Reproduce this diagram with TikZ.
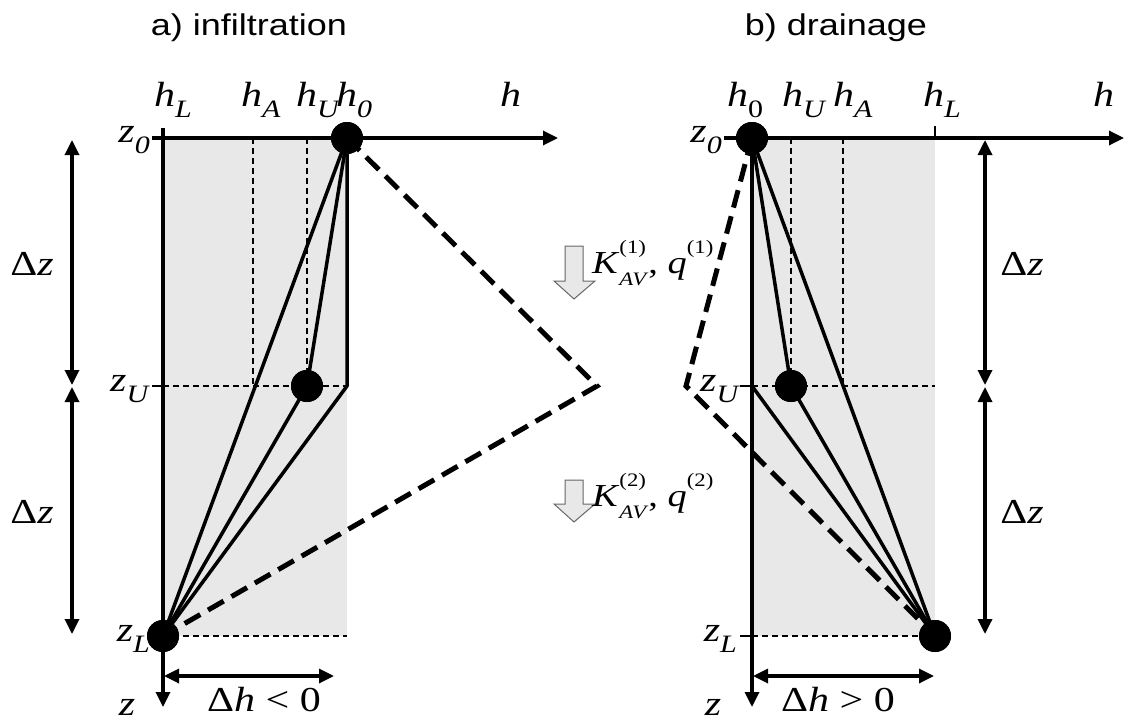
\documentclass[tikz,border=0pt]{standalone}
\usepackage{fontspec}
\setmainfont[FakeStretch=1.2]{Liberation Serif}
\newfontfamily\arialf[FakeStretch=1.2]{Liberation Sans}
\usetikzlibrary{arrows.meta}
\definecolor{fillgray}{HTML}{E8E8E8}
\newcommand{\lab}[2]{\textit{#1}\raisebox{-0.33em}{\fontsize{25}{25}\selectfont\textit{#2}}}
\newcommand{\kq}[1]{\textit{K}\rlap{\raisebox{0.6em}{\fontsize{19}{19}\selectfont(#1)}}\raisebox{-0.38em}{\fontsize{19}{19}\selectfont\textit{AV}},\hspace{0.3em}\textit{q}\raisebox{0.6em}{\fontsize{19}{19}\selectfont(#1)}}
\begin{document}
\begin{tikzpicture}[x=1pt,y=-1pt,
  axis/.style={line width=3.3pt},
  tip/.style={-{Triangle[length=15pt,width=14pt]}},
  dtip/.style={{Triangle[length=15pt,width=14pt]}-{Triangle[length=15pt,width=14pt]}},
  thind/.style={line width=2pt,dash pattern=on 6pt off 4pt},
  bigd/.style={line width=5pt,dash pattern=on 18pt off 9pt},
  prof/.style={line width=3.5pt,line join=round},
  dot/.style={circle,fill=black,minimum size=32pt,inner sep=0pt},
  lbl/.style={font=\fontsize{35}{37}\selectfont,inner sep=0pt},
  klbl/.style={font=\fontsize{32}{34}\selectfont,inner sep=0pt},
  ttl/.style={font=\arialf\fontsize{30}{32}\selectfont,inner sep=0pt},
  harrow/.style={fill=fillgray,draw=black!60,line width=1pt,line join=miter}]
\useasboundingbox (0,0) rectangle (1124,725);
% ---------- left panel ----------
\fill[fillgray] (163,138) rectangle (347,636);
\draw[thind] (253,138) -- (253,386);
\draw[thind] (307,138) -- (307,386);
\draw[line width=1.5pt] (152,386) -- (163,386);
\draw[thind] (163,386) -- (347,386);
\draw[thind] (163,636) -- (347,636);
\draw[axis,tip] (163,128) -- (163,707);
\draw[axis,tip] (152,138) -- (558,138);
\coordinate (aK) at (347,386);
\coordinate (aM) at (597,386);
\node[dot] (a0) at (347,138) {};
\node[dot] (aU) at (307,386) {};
\node[dot] (aL) at (163,636) {};
\draw[prof] (a0.center) -- (aL.center);
\draw[prof] (a0.center) -- (aU.center) -- (aL.center);
\draw[prof] (a0.center) -- (aK) -- (aL.center);
\draw[bigd] (a0.center) -- (aM) -- (aL.center);
\node[dot] at (a0) {};
\node[dot] at (aU) {};
\node[dot] at (aL) {};
\draw[axis,dtip] (72,140) -- (72,385);
\draw[axis,dtip] (72,387) -- (72,634);
\draw[axis,dtip] (164,676) -- (334,676);
\node[lbl,anchor=base west] (ahL) at (154,106) {\lab{h}{L}};
\node[lbl,anchor=base west] (ahA) at (241,106) {\lab{h}{A}};
\node[lbl,anchor=base west] (ahU) at (296,106) {\lab{h}{U}};
\node[lbl,anchor=base west] (ah0) at (336,106) {\lab{h}{0}};
\node[lbl,anchor=base west] (ah) at (500,106) {\textit{h}};
\node[lbl,anchor=east] (az0) at (150,140) {\lab{z}{0}};
\node[lbl,anchor=east] (azU) at (150,389) {\lab{z}{U}};
\node[lbl,anchor=east] (azL) at (150,639) {\lab{z}{L}};
\node[lbl,anchor=base] (az) at (127,715) {\textit{z}};
\node[lbl] (adz1) at (32,264) {Δ\textit{z}};
\node[lbl] (adz2) at (32,512) {Δ\textit{z}};
\node[lbl,anchor=base] (adh) at (264,711) {Δ\textit{h}\hspace{0.3em}<\hspace{0.3em}0};
\node[ttl,anchor=base] (at) at (249,36) {a) infiltration};
% ---------- middle ----------
\draw[harrow] (565,246) -- (583,246) -- (583,281) -- (595,281) -- (574,299) -- (554,281) -- (565,281) -- cycle;
\draw[harrow] (565,480) -- (583,480) -- (583,504) -- (595,504) -- (574,522) -- (554,504) -- (565,504) -- cycle;
\node[klbl,anchor=base west] (k1) at (592,273) {\kq{1}};
\node[klbl,anchor=base west] (k2) at (592,506) {\kq{2}};
% ---------- right panel ----------
\fill[fillgray] (752,138) rectangle (935,636);
\draw[thind] (791,138) -- (791,386);
\draw[thind] (843,138) -- (843,386);
\draw[line width=1.5pt] (740,386) -- (752,386);
\draw[thind] (752,386) -- (935,386);
\draw[line width=1.5pt] (740,636) -- (752,636);
\draw[thind] (752,636) -- (935,636);
\draw[line width=1.5pt] (935,126) -- (935,138);
\draw[axis,tip] (752,138) -- (752,707);
\draw[axis,tip] (724,138) -- (1124,138);
\coordinate (bK) at (752,386);
\coordinate (bM) at (686,386);
\node[dot] (b0) at (752,138) {};
\node[dot] (bU) at (791,386) {};
\node[dot] (bL) at (935,636) {};
\draw[prof] (b0.center) -- (bL.center);
\draw[prof] (b0.center) -- (bU.center) -- (bL.center);
\draw[prof] (b0.center) -- (bK) -- (bL.center);
\draw[bigd] (b0.center) -- (bM) -- (bL.center);
\node[dot] at (b0) {};
\node[dot] at (bU) {};
\node[dot] at (bL) {};
\draw[axis,dtip] (985,140) -- (985,385);
\draw[axis,dtip] (985,387) -- (985,634);
\draw[axis,dtip] (753,676) -- (934,676);
\node[lbl,anchor=base west] (bh0) at (727,106) {\textit{h}\raisebox{-0.33em}{\fontsize{25}{25}\selectfont 0}};
\node[lbl,anchor=base west] (bhU) at (782,106) {\lab{h}{U}};
\node[lbl,anchor=base west] (bhA) at (833,106) {\lab{h}{A}};
\node[lbl,anchor=base west] (bhL) at (923,106) {\lab{h}{L}};
\node[lbl,anchor=base west] (bh) at (1093,106) {\textit{h}};
\node[lbl,anchor=east] (bz0) at (722,140) {\lab{z}{0}};
\node[lbl,anchor=east] (bzU) at (740,389) {\lab{z}{U}};
\node[lbl,anchor=east] (bzL) at (737,639) {\lab{z}{L}};
\node[lbl,anchor=base] (bz) at (713,715) {\textit{z}};
\node[lbl] (bdz1) at (1022,264) {Δ\textit{z}};
\node[lbl] (bdz2) at (1022,512) {Δ\textit{z}};
\node[lbl,anchor=base] (bdh) at (838,711) {Δ\textit{h}\hspace{0.3em}>\hspace{0.3em}0};
\node[ttl,anchor=base] (bt) at (836,36) {b) drainage};
\end{tikzpicture}
\end{document}
